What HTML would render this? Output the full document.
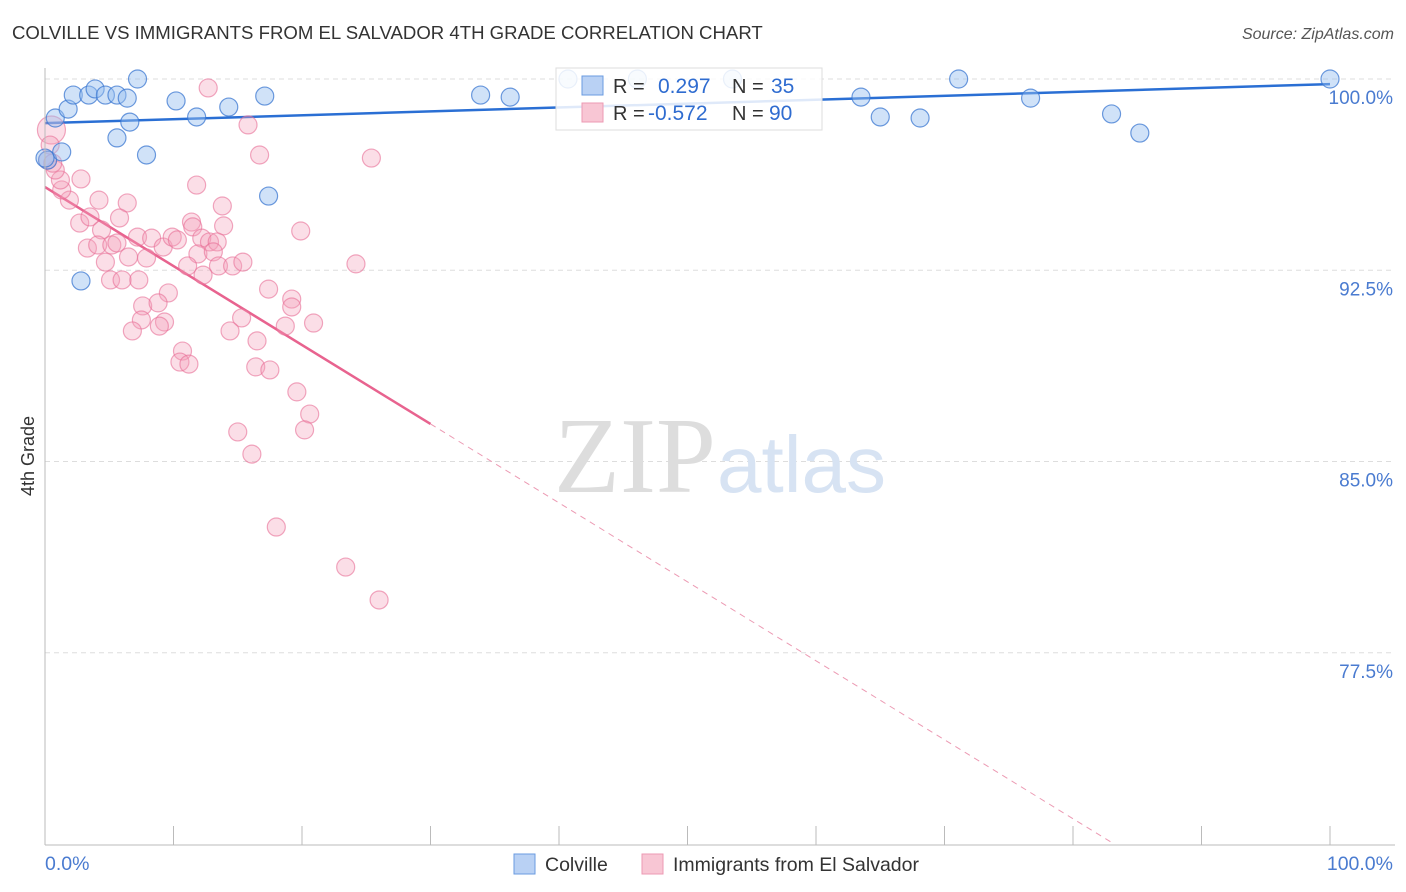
<!DOCTYPE html>
<html><head><meta charset="utf-8"><style>
body{margin:0;background:#fff;font-family:"Liberation Sans",sans-serif;}
svg{display:block}
</style></head><body>
<svg id="chart" width="1406" height="892" viewBox="0 0 1406 892">
<text x="12" y="39" font-size="18.6" fill="#333">COLVILLE VS IMMIGRANTS FROM EL SALVADOR 4TH GRADE CORRELATION CHART</text>
<text x="1394" y="39" font-size="16" fill="#555" font-style="italic" text-anchor="end">Source: ZipAtlas.com</text>
<text x="0" y="0" transform="translate(34,456) rotate(-90)" font-size="18" fill="#333" text-anchor="middle">4th Grade</text>
<g id="grid"></g>
<text x="716" y="492" font-size="108" fill="#ddd" text-anchor="end" font-family="Liberation Serif,serif">ZIP</text>
<text x="717" y="492" font-size="80" fill="#d7e3f3">atlas</text>
<g id="lines"></g>
<g id="points"></g>
<line x1="45" y1="68" x2="45" y2="845" stroke="#bbb"/>
<line x1="45" y1="845" x2="1395" y2="845" stroke="#bbb"/>
<text x="45" y="870" font-size="19.5" fill="#4a7bd0">0.0%</text>
<text x="1393" y="870" font-size="19.5" fill="#4a7bd0" text-anchor="end">100.0%</text>
<g>
<rect x="556" y="68" width="266" height="62" fill="rgba(255,255,255,0.85)" stroke="#ddd"/>
<rect x="582" y="76" width="21" height="19" fill="#b9d1f4" stroke="#6a9be0"/>
<rect x="582" y="103" width="21" height="19" fill="#f8c6d4" stroke="#ec9ab3"/>
<text x="613" y="93" font-size="20" fill="#333">R =</text><text x="658" y="93" font-size="21" fill="#2f6cd0">0.297</text>
<text x="732" y="93" font-size="20" fill="#333">N =</text><text x="771" y="93" font-size="21" fill="#2f6cd0">35</text>
<text x="613" y="120" font-size="20" fill="#333">R =</text><text x="648" y="120" font-size="21" fill="#2f6cd0">-0.572</text>
<text x="732" y="120" font-size="20" fill="#333">N =</text><text x="769" y="120" font-size="21" fill="#2f6cd0">90</text>
</g>
<g>
<rect x="514" y="854" width="21" height="20" fill="#b9d1f4" stroke="#6a9be0"/>
<text x="545" y="871" font-size="19.5" fill="#333">Colville</text>
<rect x="642" y="854" width="21" height="20" fill="#f8c6d4" stroke="#ec9ab3"/>
<text x="673" y="871" font-size="19.5" fill="#333">Immigrants from El Salvador</text>
</g>
</svg>
<script>
const yTicks=[100,92.5,85,77.5];
const yTickLabels=["100.0%","92.5%","85.0%","77.5%"];
const blueX=[0.8,1.8,2.2,3.4,3.9,4.7,5.6,6.4,6.6,5.6,7.2,7.9,10.2,11.8,14.3,17.1,17.4,33.9,36.2,40.7,46.1,53.5,63.5,65.0,68.1,71.1,76.7,83.0,85.2,100,0.2,1.3,2.8,0];
const blueY=[98.47,98.82,99.37,99.37,99.61,99.37,99.37,99.25,98.31,97.69,100,97.02,99.14,98.51,98.9,99.33,95.41,99.37,99.29,100,100,100,99.29,98.51,98.47,100,99.25,98.63,97.88,100,96.82,97.14,92.08,96.9];
const pinkX=[12.7,15.8,16.7,25.4,11.8,2.8,4.2,6.4,5.8,13.8,13.9,11.4,11.5,19.9,24.2,2.7,3.5,1.9,1.3,1.2,0.8,4.4,3.3,4.1,5.2,5.6,4.7,6.5,7.2,8.3,7.9,9.2,9.9,10.3,12.2,12.8,13.4,11.9,13.1,11.1,12.3,13.5,14.6,15.4,5.1,6.0,7.3,17.4,19.2,19.2,18.7,20.9,15.3,14.4,16.5,9.6,7.6,8.8,7.5,6.8,9.3,8.9,10.7,10.5,11.2,16.4,17.5,19.6,20.6,20.2,15.0,16.1,18.0,23.4,26.0,0.5,0.4,0.2,0.6];
const pinkY=[99.65,98.2,97.02,96.9,95.84,96.08,95.25,95.14,94.55,95.02,94.24,94.39,94.2,94.04,92.75,94.35,94.59,95.25,95.65,96.04,96.43,94.08,93.37,93.49,93.49,93.57,92.82,93.02,93.8,93.76,92.98,93.41,93.8,93.69,93.76,93.61,93.61,93.14,93.22,92.67,92.31,92.67,92.67,92.82,92.12,92.12,92.12,91.76,91.37,91.06,90.31,90.43,90.63,90.12,89.73,91.61,91.1,91.22,90.55,90.12,90.47,90.31,89.33,88.9,88.82,88.71,88.59,87.73,86.86,86.24,86.16,85.29,82.43,80.86,79.57,98.0,97.41,96.82,96.7];
const blueTrend=[98.27,99.8];
const pinkTrend=[95.76,64.8];
const pinkSolidEnd=30;
const xs=v=>45+v*12.85, ys=v=>79+(100-v)*25.5;
const NS="http://www.w3.org/2000/svg";
function mk(t,a,p){const e=document.createElementNS(NS,t);for(const k in a)e.setAttribute(k,a[k]);document.getElementById(p).appendChild(e);return e;}
yTicks.forEach((t,i)=>{
 const l=mk('line',{x1:45,x2:1395,y1:ys(t),y2:ys(t),stroke:'#ddd','stroke-dasharray':'5,4'},'grid');
 
 
 const tx=mk('text',{x:1393,y:ys(t)+25,'font-size':19,fill:'#4a7bd0','text-anchor':'end'},'grid');
 tx.textContent=yTickLabels[i];
 
 
});
for(let k=1;k<=10;k++){const t=mk('line',{x1:xs(k*10),x2:xs(k*10),y1:826,y2:845,stroke:'#bbb'},'grid');
 
 }
pinkX.forEach((x,i)=>{const c=mk('circle',{cx:xs(x),cy:ys(pinkY[i]),r:i==75?14:9,fill:'rgba(244,160,185,0.35)',stroke:'rgba(232,110,150,0.6)','stroke-width':1.2},'points');
 
 });
blueX.forEach((x,i)=>{const c=mk('circle',{cx:xs(x),cy:ys(blueY[i]),r:9,fill:'rgba(150,190,240,0.45)',stroke:'rgba(60,120,210,0.75)','stroke-width':1.2},'points');
 
 });
const bl=mk('line',{x1:xs(0),y1:ys(blueTrend[0]),x2:xs(100),y2:ys(blueTrend[1]),stroke:'#2a6fd4','stroke-width':2.5},'lines');


const pv=x=>pinkTrend[0]+(pinkTrend[1]-pinkTrend[0])*x/100;
const xEnd=(pinkTrend[0]-70)/(pinkTrend[0]-pinkTrend[1])*100;
const ps=mk('line',{x1:xs(0),y1:ys(pv(0)),x2:xs(pinkSolidEnd),y2:ys(pv(pinkSolidEnd)),stroke:'#e8638f','stroke-width':2.5},'lines');


const pd=mk('line',{x1:xs(pinkSolidEnd),y1:ys(pv(pinkSolidEnd)),x2:xs(xEnd),y2:ys(70),stroke:'#ec9ab3','stroke-width':1,'stroke-dasharray':'6,5'},'lines');


</script>
</body></html>
